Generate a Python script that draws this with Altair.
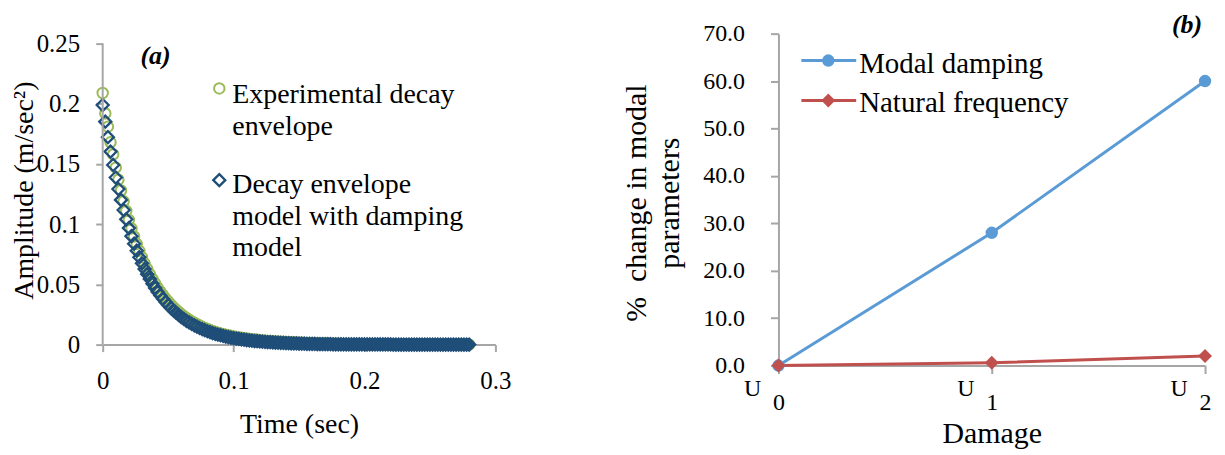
import altair as alt
import pandas as pd

FONT = "Liberation Serif"

# ---------------- Panel (a): decay envelopes ----------------
EXPERIMENTAL = [
    0.209, 0.192, 0.181, 0.168, 0.158, 0.147, 0.137, 0.128, 0.119, 0.111,
    0.1035, 0.0965, 0.0898, 0.0836, 0.0779, 0.0725, 0.0675, 0.0629, 0.0586, 0.0546,
    0.0509, 0.0474, 0.0442, 0.0412, 0.0384, 0.0358, 0.0334, 0.0312, 0.0291, 0.0272,
    0.0254, 0.0237, 0.0221, 0.0207, 0.0193, 0.0181, 0.0169, 0.0158, 0.0148, 0.0138,
    0.0129, 0.0121, 0.0113, 0.0106, 0.0099, 0.0093, 0.0087, 0.0082, 0.0077, 0.0072,
    0.0068,
    0.0064, 0.0060, 0.0057, 0.0053, 0.0050, 0.0047, 0.0045, 0.0042, 0.0040, 0.0037,
    0.0035, 0.0033, 0.0031, 0.0030, 0.0028, 0.0026, 0.0025, 0.0024, 0.0022, 0.0021,
    0.0020, 0.0019, 0.0018, 0.0017, 0.0016, 0.0015, 0.0014, 0.0013, 0.0013, 0.0012,
    0.0011, 0.0011, 0.0010, 0.0010, 0.0009, 0.0009, 0.0008, 0.0008, 0.0007, 0.0007,
    0.0007, 0.0006, 0.0006, 0.0006, 0.0005, 0.0005, 0.0005, 0.0005, 0.0004, 0.0004,
    0.0004, 0.0004, 0.0003, 0.0003, 0.0003, 0.0003, 0.0003, 0.0002, 0.0002, 0.0002,
    0.0002, 0.0002, 0.0002, 0.0002, 0.0001, 0.0001, 0.0001, 0.0001, 0.0001, 0.0001,
    0.0001, 0.0001, 0.0001, 0.0001, 0.0001, 0.0000, 0.0000, 0.0000, 0.0000, 0.0000,
    0.0000, 0.0000, 0.0000, 0.0000, 0.0000, 0.0000, 0.0000, 0.0000, 0.0000, 0.0000,
]
MODEL = [
    0.199, 0.1852, 0.1723, 0.1603, 0.1492, 0.1388, 0.1292, 0.1202, 0.1118, 0.1041,
    0.0968, 0.0901, 0.0838, 0.0780, 0.0726, 0.0675, 0.0628, 0.0585, 0.0544, 0.0506,
    0.0471, 0.0438, 0.0408, 0.0380, 0.0353, 0.0329, 0.0306, 0.0285, 0.0265, 0.0246,
    0.0229, 0.0213, 0.0198, 0.0185, 0.0172, 0.0160, 0.0149, 0.0138, 0.0129, 0.0120,
    0.0111, 0.0104, 0.0096, 0.0090, 0.0083, 0.0078, 0.0072, 0.0067, 0.0062, 0.0058,
    0.0054,
    0.0050, 0.0047, 0.0044, 0.0041, 0.0038, 0.0035, 0.0033, 0.0030, 0.0028, 0.0026,
    0.0024, 0.0023, 0.0021, 0.0020, 0.0018, 0.0017, 0.0016, 0.0015, 0.0014, 0.0013,
    0.0012, 0.0011, 0.0010, 0.0010, 0.0009, 0.0008, 0.0008, 0.0007, 0.0007, 0.0006,
    0.0006, 0.0005, 0.0005, 0.0005, 0.0004, 0.0004, 0.0004, 0.0003, 0.0003, 0.0003,
    0.0003, 0.0003, 0.0002, 0.0002, 0.0002, 0.0002, 0.0002, 0.0002, 0.0001, 0.0001,
    0.0001, 0.0001, 0.0001, 0.0001, 0.0001, 0.0001, 0.0001, 0.0001, 0.0001, 0.0001,
    0.0000, 0.0000, 0.0000, 0.0000, 0.0000, 0.0000, 0.0000, 0.0000, 0.0000, 0.0000,
    0.0000, 0.0000, 0.0000, 0.0000, 0.0000, 0.0000, 0.0000, 0.0000, 0.0000, 0.0000,
    0.0000, 0.0000, 0.0000, 0.0000, 0.0000, 0.0000, 0.0000, 0.0000, 0.0000, 0.0000,
]
TIME = [round(i * 0.002, 3) for i in range(len(MODEL))]
A_X_TICKS = [0, 0.1, 0.2, 0.3]
A_Y_TICKS = [0, 0.05, 0.1, 0.15, 0.2, 0.25]
LEGEND_A = ["Experimental decay\nenvelope", "Decay envelope\nmodel with damping\nmodel"]

# ---------------- Panel (b): modal parameter change ----------------
DAMAGE_LEVEL = [0, 1, 2]
DAMAGE_DIGIT = ["0", "1", "2"]
MODAL_DAMPING = [0.0, 28.0, 60.0]
NATURAL_FREQUENCY = [0.0, 0.6, 2.0]
B_Y_TICKS = [0, 10, 20, 30, 40, 50, 60, 70]
LEGEND_B = ["Modal damping", "Natural frequency"]

AXIS_GRAY = "#A6A6A6"
GREEN = "#9BBB59"
NAVY = "#1F4E79"
BLUE = "#5B9BD5"
RED = "#C0504D"

# plot areas: panel (a) axis spans 302 px for 0..0.25, but its area starts
# level with panel (b)'s top, 10 px higher
WA, HA = 394, 312
WB, HB = 428, 333
A_Y_TOP = 0.25 * HA / 302.0

# ---------- panel (a) ----------
dfa = pd.DataFrame({"time": TIME, "exp": EXPERIMENTAL, "model": MODEL})
x_a = alt.X("time:Q", scale=alt.Scale(domain=[0, 0.3], nice=False),
            axis=alt.Axis(values=A_X_TICKS, format="~g", title="Time (sec)",
                          labelPadding=17, labelFontSize=25,
                          titleY=88, titleBaseline="alphabetic", titleFontSize=28))
y_scale_a = alt.Scale(domain=[0, A_Y_TOP], nice=False)
y_axis_a = alt.Axis(values=A_Y_TICKS, format="~g", title="Amplitude (m/sec²)",
                    domain=False, labelPadding=16, labelFontSize=25,
                    titleX=-70, titleY=157, titleBaseline="alphabetic",
                    titleFontSize=28)

y_line_a = alt.Chart(pd.DataFrame({"lo": [A_Y_TICKS[0]], "hi": [A_Y_TICKS[-1]]})).mark_rule(
    color=AXIS_GRAY, strokeWidth=2
).encode(x=alt.datum(0, scale=alt.Scale(domain=[0, 0.3], nice=False)),
         y=alt.Y("lo:Q", scale=y_scale_a, axis=y_axis_a), y2="hi:Q")

exp_layer = alt.Chart(dfa).mark_point(
    shape="circle", filled=False, color=GREEN, size=110, strokeWidth=2, opacity=1
).encode(x=x_a, y=alt.Y("exp:Q", scale=y_scale_a, axis=y_axis_a))
model_layer = alt.Chart(dfa).mark_point(
    shape="diamond", filled=False, color=NAVY, size=145, strokeWidth=2.3, opacity=1
).encode(x=x_a, y=alt.Y("model:Q", scale=y_scale_a, axis=y_axis_a))

leg_a1 = pd.DataFrame({"label": [LEGEND_A[0]]})
leg_a2 = pd.DataFrame({"label": [LEGEND_A[1]]})
sym_a1 = alt.Chart(leg_a1).mark_point(
    shape="circle", filled=False, color=GREEN, size=110, strokeWidth=2, opacity=1
).encode(x=alt.value(117), y=alt.value(55))
sym_a2 = alt.Chart(leg_a2).mark_point(
    shape="diamond", filled=False, color=NAVY, size=145, strokeWidth=2.3, opacity=1
).encode(x=alt.value(117), y=alt.value(147))
txt_a1 = alt.Chart(leg_a1).mark_text(
    align="left", baseline="alphabetic", font=FONT, fontSize=28, lineBreak="\n",
    lineHeight=32, color="black"
).encode(x=alt.value(130), y=alt.value(70), text="label:N")
txt_a2 = alt.Chart(leg_a2).mark_text(
    align="left", baseline="alphabetic", font=FONT, fontSize=28, lineBreak="\n",
    lineHeight=31.5, color="black"
).encode(x=alt.value(130), y=alt.value(160), text="label:N")
tag_a = alt.Chart(pd.DataFrame({"tag": ["(a)"]})).mark_text(
    align="center", baseline="alphabetic", font=FONT, fontSize=26,
    fontStyle="italic", fontWeight="bold", color="black"
).encode(x=alt.value(53), y=alt.value(30), text="tag:N")

panel_a = alt.layer(
    exp_layer, model_layer, y_line_a, sym_a1, sym_a2, txt_a1, txt_a2, tag_a
).properties(width=WA, height=HA)

# ---------- panel (b) ----------
dfb = pd.DataFrame({
    "level": DAMAGE_LEVEL, "digit": DAMAGE_DIGIT,
    "damping": MODAL_DAMPING, "frequency": NATURAL_FREQUENCY,
})
label_expr = "[" + ",".join("'%s'" % d for d in DAMAGE_DIGIT) + "][datum.value]"
x_scale_b = alt.Scale(domain=[0, 2], nice=False)
x_b = alt.X("level:Q", scale=x_scale_b,
            axis=alt.Axis(values=DAMAGE_LEVEL, labelExpr=label_expr, title="Damage",
                          labelPadding=17, tickSize=8,
                          titleY=77, titleBaseline="alphabetic", titleFontSize=30))
y_scale_b = alt.Scale(domain=[0, 70], nice=False)
y_axis_b = alt.Axis(values=B_Y_TICKS, format=".1f",
                    title=["%\u00a0 change in modal", "parameters"],
                    labelPadding=26, tickSize=8,
                    titleX=-133, titleY=HB / 2 + 3, titleBaseline="alphabetic",
                    titleFontSize=30, titleLineHeight=33)

damp_line = alt.Chart(dfb).mark_line(color=BLUE, strokeWidth=3).encode(
    x=x_b, y=alt.Y("damping:Q", scale=y_scale_b, axis=y_axis_b))
damp_pts = alt.Chart(dfb).mark_point(
    shape="circle", filled=True, color=BLUE, size=154, opacity=1
).encode(x=x_b, y=alt.Y("damping:Q", scale=y_scale_b, axis=y_axis_b))
freq_line = alt.Chart(dfb).mark_line(color=RED, strokeWidth=3).encode(
    x=x_b, y=alt.Y("frequency:Q", scale=y_scale_b, axis=y_axis_b))
freq_pts = alt.Chart(dfb).mark_point(
    shape="diamond", filled=True, color=RED, size=196, opacity=1
).encode(x=x_b, y=alt.Y("frequency:Q", scale=y_scale_b, axis=y_axis_b))

u_text = alt.Chart(dfb).mark_text(
    text="U", font=FONT, fontSize=24, align="center", baseline="alphabetic",
    dx=-26, color="black"
).encode(x=x_b, y=alt.value(364))

leg_b1 = pd.DataFrame({"label": [LEGEND_B[0]]})
leg_b2 = pd.DataFrame({"label": [LEGEND_B[1]]})
rule_b1 = alt.Chart(leg_b1).mark_rule(color=BLUE, strokeWidth=3).encode(
    x=alt.value(23), x2=alt.value(78), y=alt.value(27))
pt_b1 = alt.Chart(leg_b1).mark_point(shape="circle", filled=True, color=BLUE, size=154,
                                     opacity=1).encode(x=alt.value(50), y=alt.value(27))
txt_b1 = alt.Chart(leg_b1).mark_text(
    align="left", baseline="alphabetic", font=FONT, fontSize=29, color="black"
).encode(x=alt.value(81), y=alt.value(39), text="label:N")
rule_b2 = alt.Chart(leg_b2).mark_rule(color=RED, strokeWidth=3).encode(
    x=alt.value(23), x2=alt.value(78), y=alt.value(67))
pt_b2 = alt.Chart(leg_b2).mark_point(shape="diamond", filled=True, color=RED, size=196,
                                     opacity=1).encode(x=alt.value(50), y=alt.value(67))
txt_b2 = alt.Chart(leg_b2).mark_text(
    align="left", baseline="alphabetic", font=FONT, fontSize=29, color="black"
).encode(x=alt.value(81), y=alt.value(79), text="label:N")
tag_b = alt.Chart(pd.DataFrame({"tag": ["(b)"]})).mark_text(
    align="center", baseline="alphabetic", font=FONT, fontSize=26,
    fontStyle="italic", fontWeight="bold", color="black"
).encode(x=alt.value(410), y=alt.value(-1), text="tag:N")

panel_b = alt.layer(
    damp_line, freq_line, damp_pts, freq_pts, u_text,
    rule_b1, pt_b1, txt_b1, rule_b2, pt_b2, txt_b2, tag_b
).properties(width=WB, height=HB)

chart = alt.hconcat(panel_a, panel_b, spacing=110).properties(
    padding={"left": 3, "top": 3, "right": 5, "bottom": 0}
).configure_view(
    stroke=None
).configure_axis(
    domainColor=AXIS_GRAY, domainWidth=2, tickColor=AXIS_GRAY, tickWidth=2, tickSize=7,
    grid=False, labelFont=FONT, labelFontSize=24, labelColor="black",
    labelFlush=False, labelOverlap=False,
    titleFont=FONT, titleFontWeight="normal", titleColor="black",
).configure_title(font=FONT)

chart.save("out.html", embed_options={"renderer": "svg", "actions": False})
